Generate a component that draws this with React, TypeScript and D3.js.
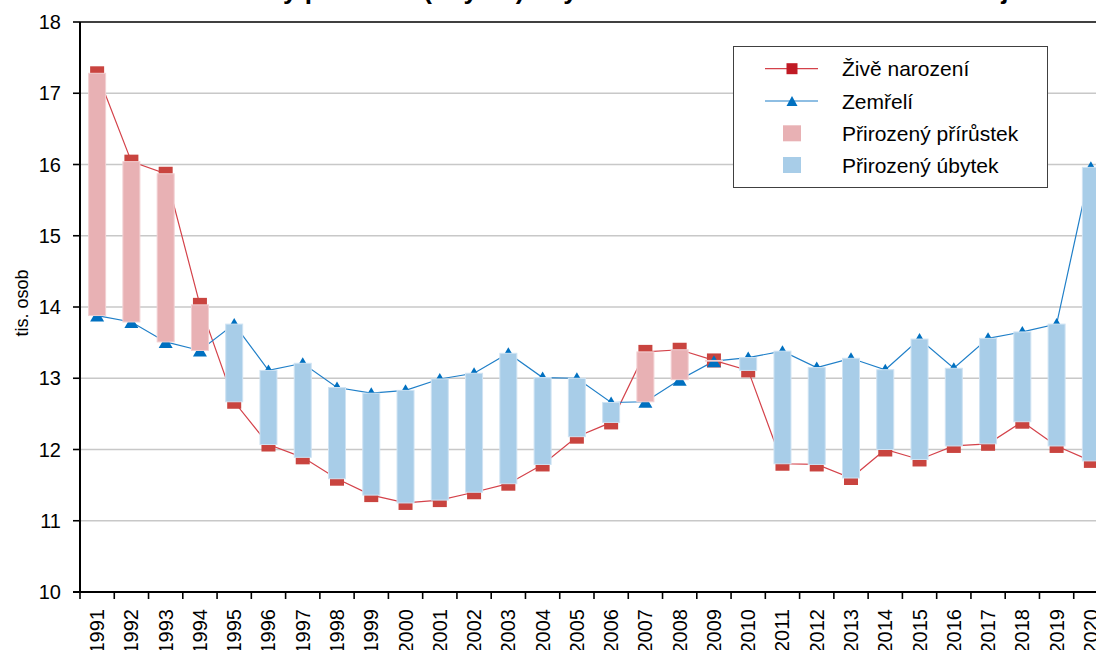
import React from "react";
import * as d3 from "d3";

const years: string[] = [
  "1991","1992","1993","1994","1995","1996","1997","1998","1999","2000",
  "2001","2002","2003","2004","2005","2006","2007","2008","2009","2010",
  "2011","2012","2013","2014","2015","2016","2017","2018","2019","2020",
];

const births: number[] = [
  17.28, 16.04, 15.87, 14.03, 12.67, 12.07, 11.89, 11.59, 11.36, 11.25,
  11.29, 11.40, 11.52, 11.79, 12.18, 12.38, 13.37, 13.40, 13.25, 13.11,
  11.80, 11.79, 11.60, 12.00, 11.86, 12.05, 12.08, 12.39, 12.05, 11.84,
];

const deaths: number[] = [
  13.88, 13.79, 13.51, 13.39, 13.76, 13.11, 13.21, 12.87, 12.79, 12.83,
  12.99, 13.07, 13.35, 13.01, 13.00, 12.66, 12.67, 12.98, 13.24, 13.29,
  13.38, 13.15, 13.28, 13.12, 13.55, 13.14, 13.56, 13.65, 13.76, 15.96,
];

const yTicks: number[] = [10, 11, 12, 13, 14, 15, 16, 17, 18];

const titleText = "Přirozený přírůstek (úbytek) obyvatelstva v Moravskoslezském kraji";
const yAxisTitle = "tis. osob";
const legendLabels: string[] = [
  "Živě narození",
  "Zemřelí",
  "Přirozený přírůstek",
  "Přirozený úbytek",
];

const FONT = "'Liberation Sans', Arial, sans-serif";
const RED_LINE = "#d4424a";
const RED_MARK = "#c9443f";
const BLUE_LINE = "#1f7fc8";
const BLUE_MARK = "#0070c0";
const PINK_BAR = "#e8b1b4";
const PINK_EDGE = "#f2d0d2";
const BLUE_BAR = "#a8cde8";
const BLUE_EDGE = "#cfe3f3";

export default function App() {
  const W = 1096;
  const H = 650;
  const left = 80;
  const right = 1108;
  const top = 22;
  const bottom = 592;

  const x = d3.scaleBand<string>().domain(years).range([left, right]).paddingInner(0).paddingOuter(0);
  const y = d3.scaleLinear().domain([10, 18]).range([bottom, top]);
  const cx = (yr: string) => (x(yr) as number) + x.bandwidth() / 2;
  const barW = 17;
  const sq = 14;
  const triW = 14;
  const triH = 12;

  const lineGen = d3
    .line<number>()
    .x((_, i) => cx(years[i]))
    .y((d) => y(d));

  const triPath = (px: number, py: number, w: number, h: number) =>
    `M${px},${py - h / 2}L${px + w / 2},${py + h / 2}L${px - w / 2},${py + h / 2}Z`;

  const rows = [68.7, 101, 133.3, 165];

  return (
    <svg
      width={W}
      height={H}
      viewBox={`0 0 ${W} ${H}`}
      style={{ position: "absolute", left: 0, top: 0, background: "#fff" }}
      fontFamily={FONT}
    >
      <rect x={0} y={0} width={W} height={H} fill="#fff" />
      {/* title (cropped at top) */}
      <text x={179} y={-1} fontSize={26} fontWeight="bold" fill="#000">
        {titleText}
      </text>

      {/* gridlines */}
      {yTicks
        .filter((t) => t > 10 && t < 18)
        .map((t) => (
          <line key={t} x1={left} x2={right} y1={y(t)} y2={y(t)} stroke="#c8c8c8" strokeWidth={1.5} />
        ))}
      <line x1={left} x2={right} y1={y(18)} y2={y(18)} stroke="#000" strokeWidth={1.6} />

      {/* lines */}
      <path d={lineGen(births) || ""} fill="none" stroke={RED_LINE} strokeWidth={1.2} />
      <path d={lineGen(deaths) || ""} fill="none" stroke={BLUE_LINE} strokeWidth={1.2} />

      {/* markers */}
      {births.map((v, i) => (
        <rect key={"b" + i} x={cx(years[i]) - sq / 2} y={y(v) - sq / 2} width={sq} height={sq} fill={RED_MARK} />
      ))}
      {deaths.map((v, i) => (
        <path key={"d" + i} d={triPath(cx(years[i]), y(v), triW, triH)} fill={BLUE_MARK} />
      ))}

      {/* bars (drawn over markers) */}
      {years.map((yr, i) => {
        const b = births[i];
        const d = deaths[i];
        const hi = Math.max(b, d);
        const lo = Math.min(b, d);
        const inc = b >= d;
        const h = y(lo) - y(hi);
        if (h < 0.5) return null;
        return (
          <rect
            key={"bar" + yr}
            x={cx(yr) - barW / 2}
            y={y(hi)}
            width={barW}
            height={h}
            fill={inc ? PINK_BAR : BLUE_BAR}
            stroke={inc ? PINK_EDGE : BLUE_EDGE}
            strokeWidth={1}
          />
        );
      })}

      {/* y axis */}
      <line x1={left} x2={left} y1={top} y2={bottom} stroke="#000" strokeWidth={2} />
      {yTicks.map((t) => (
        <g key={"yt" + t}>
          <line x1={left - 7} x2={left} y1={y(t)} y2={y(t)} stroke="#000" strokeWidth={1.6} />
          <text x={61} y={y(t)} textAnchor="end" dominantBaseline="central" fontSize={20} fill="#000">
            {t}
          </text>
        </g>
      ))}
      <text
        transform={`translate(22,${303}) rotate(-90)`}
        textAnchor="middle"
        dominantBaseline="central"
        fontSize={18}
        fill="#000"
      >
        {yAxisTitle}
      </text>

      {/* x axis */}
      <line x1={left - 7} x2={right} y1={bottom} y2={bottom} stroke="#000" strokeWidth={2} />
      {years.map((yr) => (
        <line
          key={"xt" + yr}
          x1={x(yr) as number}
          x2={x(yr) as number}
          y1={bottom}
          y2={bottom + 7}
          stroke="#000"
          strokeWidth={1.6}
        />
      ))}
      <line x1={right} x2={right} y1={bottom} y2={bottom + 7} stroke="#000" strokeWidth={1.6} />
      {years.map((yr) => (
        <text
          key={"xl" + yr}
          transform={`translate(${cx(yr)},${609}) rotate(-90)`}
          textAnchor="end"
          dominantBaseline="central"
          fontSize={20}
          fill="#000"
        >
          {yr}
        </text>
      ))}

      {/* legend */}
      <rect x={733.5} y={46.5} width={314} height={141} fill="#fff" stroke="#404040" strokeWidth={1} />
      <line x1={765} x2={818} y1={rows[0]} y2={rows[0]} stroke={RED_LINE} strokeWidth={1.2} />
      <rect x={792 - 5.5} y={rows[0] - 5.5} width={11} height={11} fill="#c01a24" />
      <line x1={765} x2={818} y1={rows[1]} y2={rows[1]} stroke={BLUE_LINE} strokeWidth={1.2} />
      <path d={triPath(792, rows[1], 11, 10)} fill={BLUE_MARK} />
      <rect x={783} y={rows[2] - 8} width={18} height={16} fill={PINK_BAR} />
      <rect x={783} y={rows[3] - 8} width={18} height={16} fill={BLUE_BAR} />
      {legendLabels.map((l, i) => (
        <text key={l} x={842} y={rows[i]} dominantBaseline="central" fontSize={21} fill="#000">
          {l}
        </text>
      ))}
    </svg>
  );
}
